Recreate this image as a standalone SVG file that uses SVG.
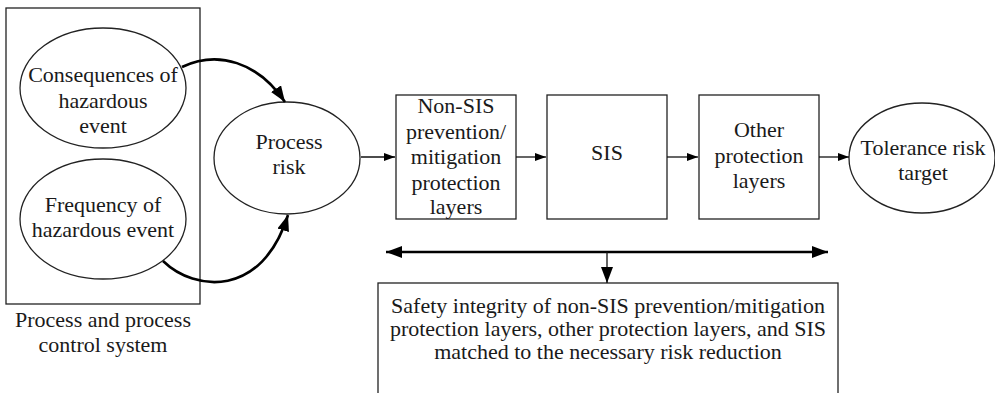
<svg xmlns="http://www.w3.org/2000/svg" width="995" height="393" viewBox="0 0 995 393">
<style>
.sh{fill:#fff;stroke:#222;stroke-width:1.3}
.thin{fill:none;stroke:#111;stroke-width:1.3}
.thick{fill:none;stroke:#000;stroke-width:2.6}
</style>
<defs>
<marker id="sm" markerWidth="12" markerHeight="10" refX="11" refY="4" orient="auto" markerUnits="userSpaceOnUse"><path d="M0,0 L11,4 L0,8 z" fill="#000"/></marker>
<marker id="big" markerWidth="18" markerHeight="14" refX="16" refY="6" orient="auto" markerUnits="userSpaceOnUse"><path d="M0,0 L16,6 L0,12 z" fill="#000"/></marker>
</defs>
<rect width="995" height="393" fill="#fff"/>
<g font-family="Liberation Serif, DejaVu Serif, serif" font-size="22" fill="#1a1a1a" text-anchor="middle">
<g id="system">
<rect x="6" y="8" width="194" height="296" class="sh" fill="none"/>
<text x="103" y="327">Process and process</text>
<text x="103" y="352">control system</text>
</g>
<g id="consequences">
<ellipse cx="103" cy="88" rx="83" ry="60" class="sh"/>
<text x="103" y="82">Consequences of</text>
<text x="103" y="108">hazardous</text>
<text x="103" y="133">event</text>
</g>
<g id="frequency">
<ellipse cx="103" cy="219" rx="83" ry="60" class="sh"/>
<text x="103" y="212">Frequency of</text>
<text x="103" y="237">hazardous event</text>
</g>
<g id="process-risk">
<ellipse cx="287" cy="158" rx="73" ry="56" class="sh"/>
<text x="289" y="149">Process</text>
<text x="289" y="174">risk</text>
</g>
<g id="non-sis">
<rect x="396" y="95" width="120" height="124" class="sh"/>
<text x="456" y="113">Non-SIS</text>
<text x="456" y="139">prevention/</text>
<text x="456" y="164">mitigation</text>
<text x="456" y="190">protection</text>
<text x="456" y="214">layers</text>
</g>
<g id="sis">
<rect x="547" y="95" width="120" height="124" class="sh"/>
<text x="607" y="160">SIS</text>
</g>
<g id="other">
<rect x="699" y="95" width="120" height="124" class="sh"/>
<text x="759" y="137">Other</text>
<text x="759" y="163">protection</text>
<text x="759" y="188">layers</text>
</g>
<g id="tolerance">
<ellipse cx="922" cy="158" rx="73" ry="55" class="sh"/>
<text x="923" y="155">Tolerance risk</text>
<text x="923" y="180">target</text>
</g>
<g id="safety-integrity">
<rect x="378" y="283" width="460" height="130" class="sh"/>
<text x="608" y="313">Safety integrity of non-SIS prevention/mitigation</text>
<text x="608" y="336">protection layers, other protection layers, and SIS</text>
<text x="608" y="359">matched to the necessary risk reduction</text>
</g>
</g>
<g id="connectors">
<path d="M182,67 C218,50 258,62 285,102" class="thick" marker-end="url(#big)"/>
<path d="M163,261 C195,292 262,298 288,215" class="thick" marker-end="url(#big)"/>
<line x1="361" y1="157" x2="395" y2="157" class="thin" marker-end="url(#sm)"/>
<line x1="516" y1="157" x2="546" y2="157" class="thin" marker-end="url(#sm)"/>
<line x1="667" y1="157" x2="698" y2="157" class="thin" marker-end="url(#sm)"/>
<line x1="819" y1="157" x2="849" y2="157" class="thin" marker-end="url(#sm)"/>
<line x1="607" y1="252" x2="386" y2="252" class="thick" marker-end="url(#big)"/>
<line x1="607" y1="252" x2="828" y2="252" class="thick" marker-end="url(#big)"/>
<line x1="607" y1="252" x2="607" y2="283" class="thin" stroke-width="2" marker-end="url(#big)"/>
</g>
</svg>
